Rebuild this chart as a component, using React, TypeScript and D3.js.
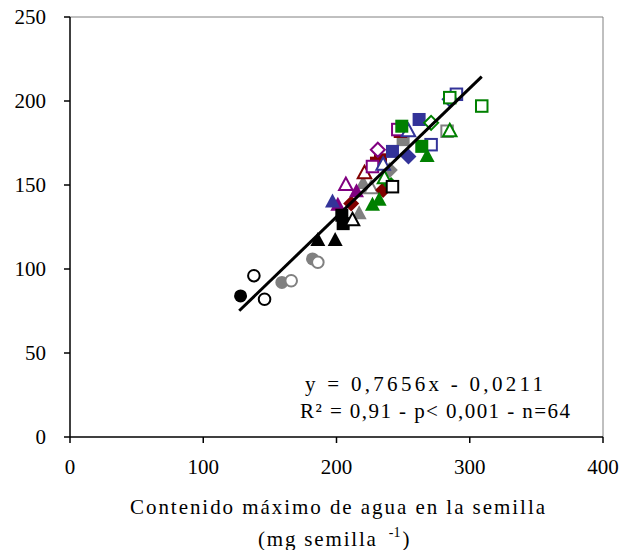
import React from "react";
import * as d3 from "d3";

// Axis ticks
const xTicks = [0, 100, 200, 300, 400];
const yTicks = [0, 50, 100, 150, 200, 250];

// Regression line (slope, intercept, x range)
const slope = 0.7656;
const intercept = -22.1;
const lineRange = [127, 309];

// Series colours
const colors = {
  black: "#000000",
  grey: "#808080",
  red: "#800000",
  green: "#008000",
  blue: "#333399",
  purple: "#800080",
};

// Each point: [x, y, colour key, shape, filled]
type Pt = [number, number, keyof typeof colors, "circle" | "triangle" | "square" | "diamond", boolean];

const circlesBlack: Pt[] = [
  [128, 84, "black", "circle", true],
  [138, 96, "black", "circle", false],
  [146, 82, "black", "circle", false],
];
const circlesGrey: Pt[] = [
  [159, 92, "grey", "circle", true],
  [166, 93, "grey", "circle", false],
  [182, 106, "grey", "circle", true],
  [186, 104, "grey", "circle", false],
];
const blackMarks: Pt[] = [
  [186, 117, "black", "triangle", true],
  [199, 117, "black", "triangle", true],
  [204, 132, "black", "square", true],
  [205, 127, "black", "square", true],
  [212, 129, "black", "triangle", false],
  [242, 149, "black", "square", false],
];
const greyMarks: Pt[] = [
  [217, 133, "grey", "triangle", true],
  [220, 151, "grey", "triangle", true],
  [240, 159, "grey", "diamond", true],
  [250, 177, "grey", "square", true],
  [283, 182, "grey", "square", false],
  [226, 148, "grey", "triangle", false],
];
const redMarks: Pt[] = [
  [211, 139, "red", "diamond", true],
  [235, 147, "red", "diamond", true],
  [221, 157, "red", "triangle", false],
  [233, 165, "red", "square", true],
  [248, 182, "red", "square", false],
  [230, 163, "red", "square", true],
];
const greenMarks: Pt[] = [
  [227, 138, "green", "triangle", true],
  [241, 150, "green", "diamond", true],
  [236, 154, "green", "triangle", false],
  [268, 167, "green", "triangle", true],
  [264, 173, "green", "square", true],
  [249, 185, "green", "square", true],
  [271, 187, "green", "diamond", false],
  [285, 182, "green", "triangle", false],
  [285, 202, "green", "square", false],
  [309, 197, "green", "square", false],
  [232, 141, "green", "triangle", true],
];
const blueMarks: Pt[] = [
  [197, 140, "blue", "triangle", true],
  [235, 162, "blue", "triangle", false],
  [242, 170, "blue", "square", true],
  [254, 167, "blue", "diamond", true],
  [271, 174, "blue", "square", false],
  [254, 182, "blue", "triangle", false],
  [262, 189, "blue", "square", true],
  [290, 204, "blue", "square", false],
  [285, 201, "blue", "diamond", false],
];
const purpleMarks: Pt[] = [
  [201, 138, "purple", "triangle", true],
  [207, 150, "purple", "triangle", false],
  [227, 161, "purple", "square", false],
  [231, 171, "purple", "diamond", false],
  [246, 183, "purple", "square", false],
  [215, 146, "purple", "triangle", true],
];

const allPoints: Pt[] = [
  ...greyMarks,
  ...redMarks,
  ...purpleMarks,
  ...blueMarks,
  ...greenMarks,
  ...blackMarks,
  ...circlesGrey,
  ...circlesBlack,
];

const W = 626;
const H = 550;
const left = 70;
const right = 603;
const top = 17;
const bottom = 437;

const FONT = "'Liberation Serif', 'Times New Roman', serif";

function Marker({ p, x, y }: { p: Pt; x: d3.ScaleLinear<number, number>; y: d3.ScaleLinear<number, number> }) {
  const cx = x(p[0]);
  const cy = y(p[1]);
  const c = colors[p[2]];
  const filled = p[4];
  const fill = filled ? c : "#ffffff";
  const sw = filled ? 0 : 2;
  const shape = p[3];
  if (shape === "circle") {
    return <circle cx={cx} cy={cy} r={filled ? 6.5 : 5.8} fill={fill} stroke={c} strokeWidth={filled ? 0 : 2} />;
  }
  if (shape === "square") {
    const s = filled ? 13 : 11.5;
    return <rect x={cx - s / 2} y={cy - s / 2} width={s} height={s} fill={fill} stroke={c} strokeWidth={sw} />;
  }
  if (shape === "diamond") {
    const r = filled ? 8 : 7;
    const d = `M${cx},${cy - r}L${cx + r},${cy}L${cx},${cy + r}L${cx - r},${cy}Z`;
    return <path d={d} fill={fill} stroke={c} strokeWidth={sw} />;
  }
  const h = filled ? 14 : 12.5;
  const w = filled ? 15 : 13.5;
  const d = `M${cx},${cy - h * 0.6}L${cx + w / 2},${cy + h * 0.4}L${cx - w / 2},${cy + h * 0.4}Z`;
  return <path d={d} fill={fill} stroke={c} strokeWidth={sw} strokeLinejoin="miter" />;
}

export default function App() {
  const x = d3.scaleLinear().domain([0, 400]).range([left, right]);
  const y = d3.scaleLinear().domain([0, 250]).range([bottom, top]);
  const line = d3
    .line<number>()
    .x((d) => x(d))
    .y((d) => y(slope * d + intercept));

  return (
    <svg width={W} height={H} style={{ position: "absolute", left: 0, top: 0 }} fontFamily={FONT}>
      <rect x={0} y={0} width={W} height={H} fill="#ffffff" />
      {/* plot area border */}
      <line x1={left} x2={right} y1={top} y2={top} stroke="#808080" strokeWidth={1} />
      <line x1={right} x2={right} y1={top} y2={bottom} stroke="#808080" strokeWidth={1} />

      {allPoints.map((p, i) => (
        <Marker key={i} p={p} x={x} y={y} />
      ))}

      <path d={line(lineRange) || ""} stroke="#000" strokeWidth={3} fill="none" />

      {/* y axis */}
      <line x1={left} x2={left} y1={top} y2={bottom} stroke="#000" strokeWidth={1.5} />
      {yTicks.map((t) => (
        <g key={t}>
          <line x1={left - 6} x2={left} y1={y(t)} y2={y(t)} stroke="#000" strokeWidth={1.5} />
          <text x={left - 24} y={y(t)} dy="0.35em" textAnchor="end" fontSize={21}>
            {t}
          </text>
        </g>
      ))}

      {/* x axis */}
      <line x1={left} x2={right} y1={bottom} y2={bottom} stroke="#000" strokeWidth={1.5} />
      {xTicks.map((t) => (
        <g key={t}>
          <line x1={x(t)} x2={x(t)} y1={bottom} y2={bottom + 6} stroke="#000" strokeWidth={1.5} />
          <text x={x(t)} y={bottom + 37} textAnchor="middle" fontSize={21}>
            {t}
          </text>
        </g>
      ))}

      {/* equation */}
      <text x={305} y={391} fontSize={21} textLength={238} lengthAdjust="spacing">
        y = 0,7656x - 0,0211
      </text>
      <text x={300} y={418} fontSize={21} textLength={270} lengthAdjust="spacing">
        R² = 0,91 - p&lt; 0,001 - n=64
      </text>

      {/* x axis title */}
      <text x={130} y={514} fontSize={21} textLength={415} lengthAdjust="spacing">
        Contenido máximo de agua en la semilla
      </text>
      <text x={258} y={546} fontSize={21}>
        <tspan textLength={125} lengthAdjust="spacing">(mg  semilla </tspan>
        <tspan fontSize={14} dx={4} dy={-9}>-1</tspan>
        <tspan dx={2} dy={9}>)</tspan>
      </text>
    </svg>
  );
}
